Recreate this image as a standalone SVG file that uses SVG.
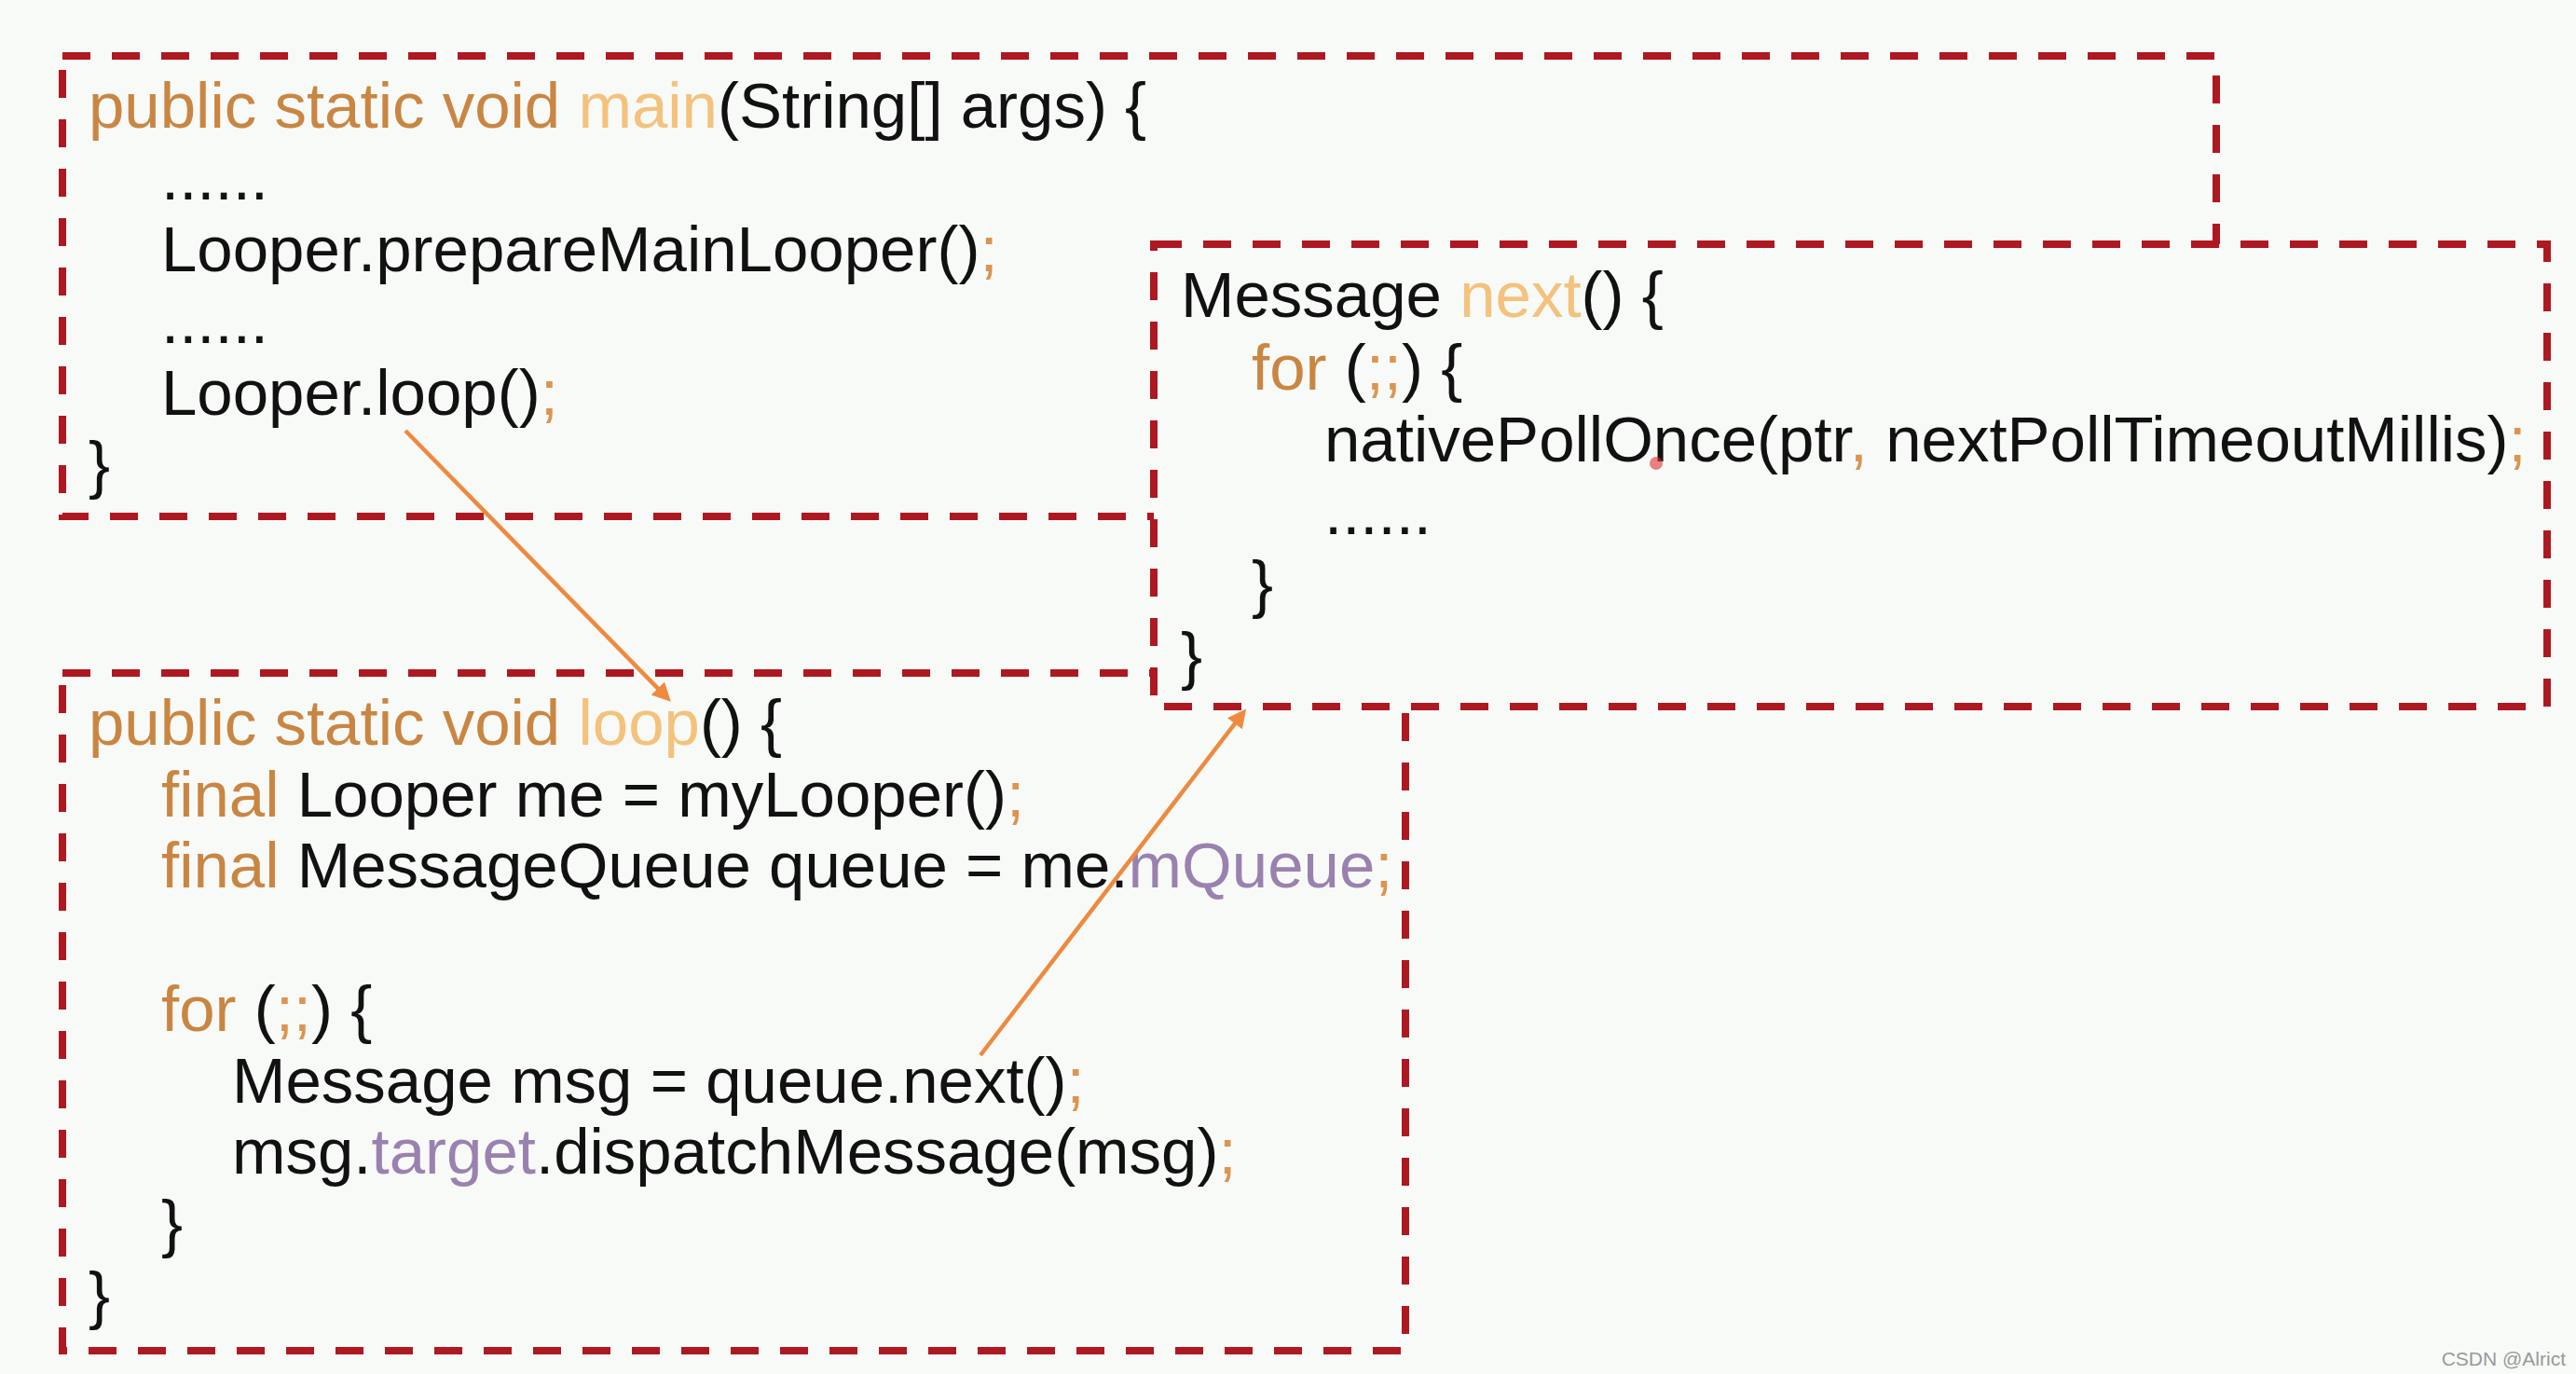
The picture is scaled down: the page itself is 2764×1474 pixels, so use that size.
<svg xmlns="http://www.w3.org/2000/svg" width="2764" height="1474" viewBox="0 0 2764 1474">
<style>
.bg{fill:#F8FAF8}
.box{fill:none;stroke:#AE1820;stroke-width:8;stroke-dasharray:30 23}
.boxf{fill:#F8FAF8;stroke:#AE1820;stroke-width:8;stroke-dasharray:30 23}
.code{font-family:"Liberation Sans",Arial,sans-serif;font-size:69px;fill:#111;white-space:pre}
.kw{fill:#C98642}
.fn{fill:#F4C27C}
.sc{fill:#DC9450}
.fd{fill:#9A82B0}
.conn{stroke:#ED8A3F;stroke-width:4.5;fill:none}
.wm{font-family:"Liberation Sans",Arial,sans-serif;font-size:21px;fill:#999;text-anchor:end}
</style>
<defs>
<marker id="ah" viewBox="0 0 10 10" refX="2.5" refY="5" markerWidth="24" markerHeight="20" markerUnits="userSpaceOnUse" orient="auto">
<path d="M0,0 L10,5 L0,10 z" fill="#ED8A3F"/>
</marker>
</defs>
<rect class="bg" x="0" y="0" width="2764" height="1474"/>

<g id="node-main">
<rect class="box" x="67" y="60" width="2311" height="494"/>
<text class="code" x="95" y="137"><tspan class="kw">public static void </tspan><tspan class="fn">main</tspan>(String[] args) {</text>
<text class="code" x="173" y="214">......</text>
<text class="code" x="173" y="291">Looper.prepareMainLooper()<tspan class="sc">;</tspan></text>
<text class="code" x="173" y="368">......</text>
<text class="code" x="173" y="445">Looper.loop()<tspan class="sc">;</tspan></text>
<text class="code" x="95" y="522">}</text>
</g>

<g id="node-loop">
<rect class="box" x="67" y="722" width="1441" height="727"/>
<text class="code" x="95" y="799"><tspan class="kw">public static void </tspan><tspan class="fn">loop</tspan>() {</text>
<text class="code" x="173" y="876"><tspan class="kw">final </tspan>Looper me = myLooper()<tspan class="sc">;</tspan></text>
<text class="code" x="173" y="952"><tspan class="kw">final </tspan>MessageQueue queue = me.<tspan class="fd">mQueue</tspan><tspan class="sc">;</tspan></text>
<text class="code" x="173" y="1106"><tspan class="kw">for </tspan>(<tspan class="sc">;;</tspan>) {</text>
<text class="code" x="249" y="1183">Message msg = queue.next()<tspan class="sc">;</tspan></text>
<text class="code" x="249" y="1259">msg.<tspan class="fd">target</tspan>.dispatchMessage(msg)<tspan class="sc">;</tspan></text>
<text class="code" x="173" y="1336">}</text>
<text class="code" x="95" y="1413">}</text>
</g>

<g id="node-next">
<rect class="boxf" x="1238" y="262" width="1495" height="496"/>
<text class="code" x="1267" y="340">Message <tspan class="fn">next</tspan>() {</text>
<text class="code" x="1343" y="418"><tspan class="kw">for </tspan>(<tspan class="sc">;;</tspan>) {</text>
<text class="code" x="1421" y="495">nativePollOnce(ptr<tspan class="sc">,</tspan> nextPollTimeoutMillis)<tspan class="sc">;</tspan></text>
<text class="code" x="1421" y="573">......</text>
<text class="code" x="1343" y="650">}</text>
<text class="code" x="1267" y="727">}</text>
<circle cx="1777" cy="497" r="7" fill="#E03030" fill-opacity="0.6"/>
</g>

<g id="connectors">
<line class="conn" x1="435" y1="462" x2="709.4" y2="742.1" marker-end="url(#ah)"/>
<line class="conn" x1="1052" y1="1132" x2="1328" y2="772.3" marker-end="url(#ah)"/>
</g>

<text class="wm" x="2753" y="1465">CSDN @Alrict</text>
</svg>
